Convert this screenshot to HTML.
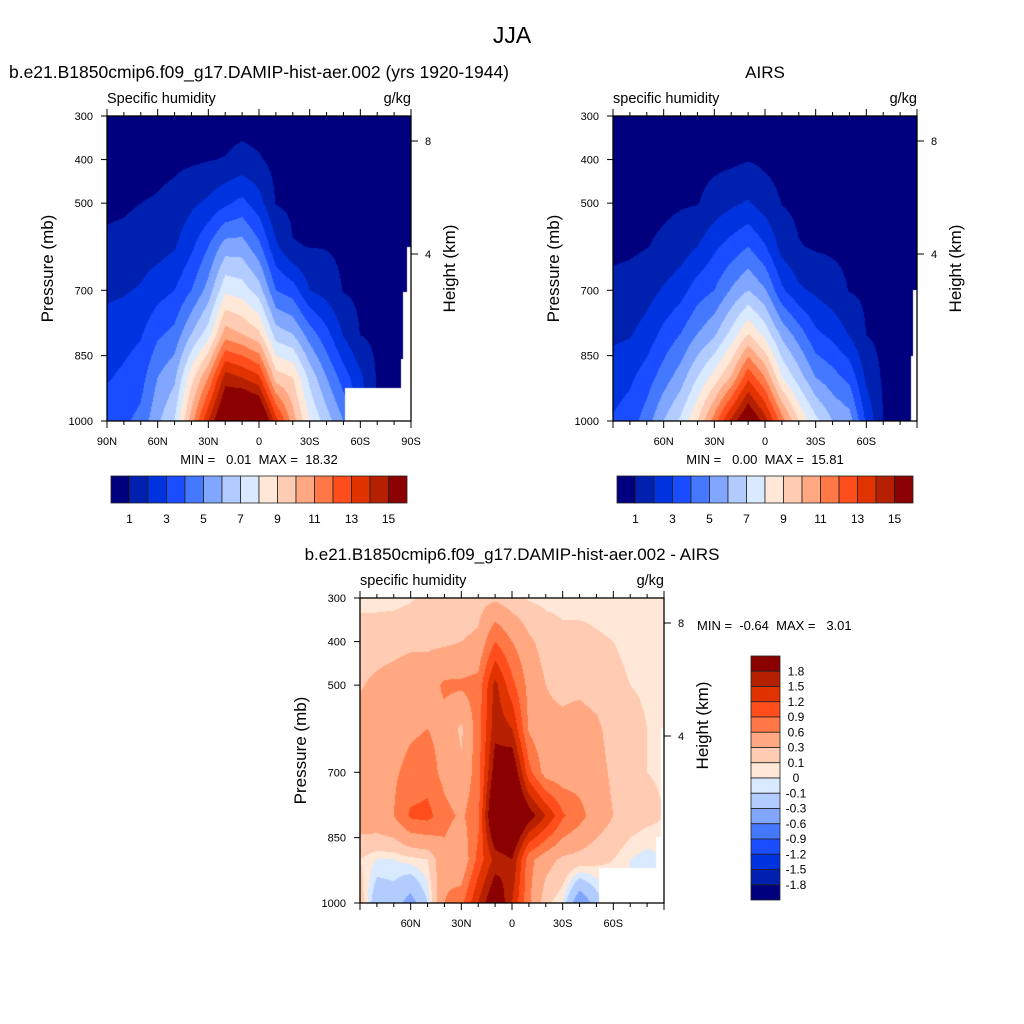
<!DOCTYPE html>
<html><head><meta charset="utf-8">
<style>
html,body{margin:0;padding:0;background:#fff;width:1024px;height:1024px;overflow:hidden}
#wrap{position:relative;width:1024px;height:1024px}
canvas{position:absolute}
svg{position:absolute;left:0;top:0}
text{font-family:"Liberation Sans",sans-serif;fill:#000}
</style></head>
<body>
<div id="wrap">
<canvas id="c1" width="304" height="305" style="left:107px;top:116px"></canvas>
<canvas id="c2" width="304" height="305" style="left:613px;top:116px"></canvas>
<canvas id="c3" width="304" height="305" style="left:360px;top:598px"></canvas>
<svg id="svg" width="1024" height="1024">
<text x="512" y="43" font-size="23" text-anchor="middle">JJA</text>
<text x="259" y="78" font-size="17.5" text-anchor="middle">b.e21.B1850cmip6.f09_g17.DAMIP-hist-aer.002 (yrs 1920-1944)</text>
<text x="765" y="78" font-size="17" text-anchor="middle">AIRS</text>
<text x="512" y="560" font-size="17" text-anchor="middle">b.e21.B1850cmip6.f09_g17.DAMIP-hist-aer.002 - AIRS</text>
<text x="107" y="103" font-size="14.5">Specific humidity</text>
<text x="411" y="103" font-size="14.5" text-anchor="end">g/kg</text>
<text x="613" y="103" font-size="14.5">specific humidity</text>
<text x="917" y="103" font-size="14.5" text-anchor="end">g/kg</text>
<text x="360" y="585" font-size="14.5">specific humidity</text>
<text x="664" y="585" font-size="14.5" text-anchor="end">g/kg</text>
<text x="259" y="464" font-size="13" text-anchor="middle" xml:space="preserve">MIN =   0.01  MAX =  18.32</text>
<text x="765" y="464" font-size="13" text-anchor="middle" xml:space="preserve">MIN =   0.00  MAX =  15.81</text>
<text x="697" y="630" font-size="13" xml:space="preserve">MIN =  -0.64  MAX =   3.01</text>
</svg>
</div>
<script>
// ---- data ----
const lats=[90,80,70,60,50,40,30,20,10,0,-10,-20,-30,-40,-50,-60,-70,-80,-90];
const plevs=[300,400,500,600,700,800,900,1000];
const qModel=[
[0.3,0.5,0.8,1.2,1.8,2.4,2.9,3.6],
[0.3,0.5,0.85,1.3,1.9,2.6,3.2,3.8],
[0.35,0.6,1.0,1.5,2.1,2.9,3.6,4.3],
[0.4,0.7,1.1,1.6,2.6,3.8,5.0,5.8],
[0.45,0.8,1.3,1.9,3.0,4.3,5.8,7.0],
[0.5,0.85,1.8,2.8,4.0,6.0,8.6,10.5],
[0.5,0.95,2.2,4.0,5.4,7.5,11.0,14.0],
[0.55,1.05,2.8,5.5,7.8,10.5,14.5,17.0],
[0.6,1.3,3.3,5.5,7.5,10.0,14.0,18.0],
[0.5,1.1,2.4,4.3,6.5,9.2,13.2,17.5],
[0.4,0.7,0.95,2.2,4.0,6.5,9.5,13.5],
[0.35,0.6,0.8,1.05,3.5,6.0,9.0,10.5],
[0.3,0.55,0.75,0.98,2.0,4.5,6.7,8.0],
[0.3,0.5,0.7,0.95,1.6,3.3,5.0,6.5],
[0.3,0.45,0.6,0.8,0.95,1.9,3.5,5.0],
[0.25,0.4,0.5,0.65,0.8,0.97,2.2,2.5],
[0.2,0.3,0.4,0.5,0.6,0.75,0.9,1.0],
[0.15,0.2,0.3,0.4,0.5,0.6,0.7,0.8],
[0.1,0.15,0.2,0.3,0.4,0.5,0.6,0.7]];
const qAirs=[
[0.2,0.35,0.55,0.8,1.25,1.8,2.5,3.1],
[0.25,0.4,0.6,0.85,1.35,1.9,2.8,3.5],
[0.3,0.45,0.7,0.97,1.6,2.4,3.5,4.5],
[0.35,0.55,0.8,1.2,2.1,3.3,4.5,6.0],
[0.4,0.6,0.9,1.5,2.6,4.0,5.5,7.2],
[0.45,0.7,0.95,2.0,3.5,5.0,7.0,9.0],
[0.5,0.75,1.4,2.8,4.0,5.8,8.4,11.5],
[0.5,0.8,1.8,3.4,5.1,7.3,10.1,14.3],
[0.5,0.95,2.1,4.0,6.0,9.0,12.8,16.5],
[0.45,0.8,1.5,3.1,5.1,7.6,11.0,14.5],
[0.4,0.65,0.97,1.6,3.2,5.7,8.0,11.5],
[0.35,0.55,0.8,1.05,2.2,4.5,6.5,9.0],
[0.3,0.5,0.7,0.9,1.8,3.2,5.0,7.3],
[0.3,0.45,0.65,0.85,1.4,2.7,4.4,6.0],
[0.25,0.4,0.6,0.8,0.96,1.9,3.7,5.5],
[0.2,0.35,0.5,0.7,0.85,0.98,1.8,2.8],
[0.15,0.25,0.35,0.5,0.6,0.75,0.85,1.0],
[0.1,0.2,0.3,0.4,0.5,0.6,0.7,0.8],
[0.1,0.2,0.3,0.4,0.5,0.6,0.7,0.8]];
const qDiff=[
[0.05,0.2,0.28,0.4,0.45,0.45,0.1,0.2],
[0.05,0.2,0.35,0.4,0.45,0.5,0.0,-0.25],
[0.05,0.22,0.4,0.45,0.55,0.6,0.0,-0.2],
[0.08,0.25,0.45,0.55,0.7,0.95,0.05,-0.4],
[0.15,0.25,0.45,0.6,0.75,1.0,0.1,-0.1],
[0.15,0.25,0.65,0.5,0.5,0.7,0.5,0.6],
[0.15,0.3,0.65,0.25,0.35,0.55,0.3,0.8],
[0.2,0.35,0.7,0.75,0.75,0.8,1.0,1.5],
[0.25,0.9,1.6,1.7,2.0,2.5,1.6,2.2],
[0.15,0.6,1.0,1.5,2.2,2.6,1.8,1.5],
[0.08,0.35,0.5,0.55,1.0,2.0,0.7,0.65],
[0.06,0.2,0.3,0.35,0.45,1.5,0.4,0.15],
[0.05,0.15,0.25,0.35,0.4,0.95,0.25,0.0],
[0.05,0.15,0.25,0.4,0.45,0.7,0.2,-0.5],
[0.05,0.12,0.2,0.35,0.4,0.45,0.15,-0.2],
[0.04,0.1,0.15,0.2,0.25,0.3,0.1,0.0],
[0.03,0.06,0.1,0.15,0.15,0.2,0.0,0.0],
[0.03,0.05,0.08,0.1,0.1,0.15,-0.05,0.0],
[0.02,0.04,0.06,0.08,0.08,0.1,0.0,0.0]];
const levelsQ=[1,2,3,4,5,6,7,8,9,10,11,12,13,14,15];
const levelsD=[-1.8,-1.5,-1.2,-0.9,-0.6,-0.3,-0.1,0,0.1,0.3,0.6,0.9,1.2,1.5,1.8];
const labelsQ=["1","3","5","7","9","11","13","15"];
const labelsD=["1.8","1.5","1.2","0.9","0.6","0.3","0.1","0","-0.1","-0.3","-0.6","-0.9","-1.2","-1.5","-1.8"];
// mask: [lat <= value, p >= value]
const maskModel=[[-51,924],[-84,858],[-85.5,704],[-87.6,600]];
const maskAirs=[[-86.6,850],[-87.6,700]];
const maskDiff=[[-51.5,920],[-85,848],[-88.5,598]];
const pTicks=[300,400,500,700,850,1000];
const latTicks=[90,60,30,0,-30,-60,-90];
const latTickLabels=["90N","60N","30N","0","30S","60S","90S"];
const kmTicks=[[8,141],[4,254]];
const palette=['#00007f','#0021b0','#0033e0','#1a4dff','#4479ff','#80a6ff','#b3ccff','#d9e9ff','#ffe8d7','#ffcbb2','#ffa882','#ff7846','#ff4d1c','#e03300','#b52000','#8b0000'];
</script>
<script>
const NS='http://www.w3.org/2000/svg';
const svg=document.getElementById('svg');
function mk(tag,attrs){const e=document.createElementNS(NS,tag);for(const k in attrs)e.setAttribute(k,attrs[k]);svg.appendChild(e);return e;}
function hex(c){return [parseInt(c.slice(1,3),16),parseInt(c.slice(3,5),16),parseInt(c.slice(5,7),16)];}
const rgb=palette.map(hex);
function xOf(P,lat){return P.x+(90-lat)/180*P.w;}
function yOf(P,p){return P.y+(p-300)/700*P.h;}
function sample(data,lat,p){
  let fi=(90-lat)/10, fj=(p-300)/100;
  fi=Math.max(0,Math.min(lats.length-1.0001,fi)); fj=Math.max(0,Math.min(plevs.length-1.0001,fj));
  const i=Math.floor(fi),j=Math.floor(fj),a=fi-i,b=fj-j;
  return data[i][j]*(1-a)*(1-b)+data[i+1][j]*a*(1-b)+data[i][j+1]*(1-a)*b+data[i+1][j+1]*a*b;
}
function idx(v,levels){let k=0;for(const l of levels){if(v>=l)k++;}return k;}
function drawPanel(cid,P,data,levels,mask){
  const cv=document.getElementById(cid),ctx=cv.getContext('2d');
  const img=ctx.createImageData(cv.width,cv.height);
  for(let py=0;py<cv.height;py++){
    const p=300+(py+0.5)/P.h*700;
    for(let px=0;px<cv.width;px++){
      const lat=90-(px+0.5)/P.w*180;
      let col=[255,255,255];
      let masked=false;
      for(const m of mask){if(lat<=m[0]&&p>=m[1])masked=true;}
      if(!masked)col=rgb[idx(sample(data,lat,p),levels)];
      const o=(py*cv.width+px)*4;
      img.data[o]=col[0];img.data[o+1]=col[1];img.data[o+2]=col[2];img.data[o+3]=255;
    }
  }
  ctx.putImageData(img,0,0);
}
function axes(P,name,showEnds){
  const r=mk('rect',{x:P.x,y:P.y,width:P.w,height:P.h,fill:'none',stroke:'#000','stroke-width':1.3});
  
  
  for(const p of pTicks){
    const y=yOf(P,p);
    const t=mk('line',{x1:P.x-6,x2:P.x,y1:y,y2:y,stroke:'#000'});
    
    
    const l=mk('text',{x:P.x-14,y:y+4,'font-size':11,'text-anchor':'end'});
    l.textContent=p;
    
    
  }
  for(let lat=90;lat>=-90;lat-=10){
    const x=xOf(P,lat),len=(lat%30===0)?7:4;
    const t1=mk('line',{x1:x,x2:x,y1:P.y,y2:P.y-len,stroke:'#000'});
    
    
    const t2=mk('line',{x1:x,x2:x,y1:P.y+P.h,y2:P.y+P.h+len,stroke:'#000'});
    
    
  }
  latTicks.forEach((lat,i)=>{
    if(!showEnds&&Math.abs(lat)===90)return;
    const l=mk('text',{x:xOf(P,lat),y:P.y+P.h+24,'font-size':11,'text-anchor':'middle'});
    l.textContent=latTickLabels[i];
    
    
  });
  for(const k of kmTicks){
    const y=P.y+(k[1]-116);
    const t=mk('line',{x1:P.x+P.w,x2:P.x+P.w+7,y1:y,y2:y,stroke:'#000'});
    
    
    const l=mk('text',{x:P.x+P.w+17,y:y+4,'font-size':11,'text-anchor':'middle'});
    l.textContent=k[0];
    
    
  }
  const cy=P.y+P.h/2;
  const yl=mk('text',{x:P.x-54,y:cy,'font-size':17,'text-anchor':'middle',transform:'rotate(-90 '+(P.x-54)+' '+cy+')'});
  yl.textContent='Pressure (mb)';
  
  
  const hy=name==='diff'?cy-25:cy;
  const yr=mk('text',{x:P.x+P.w+44,y:hy,'font-size':17,'text-anchor':'middle',transform:'rotate(-90 '+(P.x+P.w+44)+' '+hy+')'});
  yr.textContent='Height (km)';
  
  
}
function hbar(x,y,w,h,name){
  const bw=w/palette.length;
  palette.forEach((c,i)=>{
    const r=mk('rect',{x:x+i*bw,y:y,width:bw,height:h,fill:c,stroke:'#222','stroke-width':0.8});
    
    
  });
  labelsQ.forEach((t,i)=>{
    const k=levelsQ.indexOf(+t)+1;
    const l=mk('text',{x:x+k*bw,y:y+h+20,'font-size':12,'text-anchor':'middle'});
    l.textContent=t;
    
    
  });
}
function vbar(x,y,w,h,name){
  const bh=h/palette.length;
  palette.slice().reverse().forEach((c,i)=>{
    const r=mk('rect',{x:x,y:y+i*bh,width:w,height:bh,fill:c,stroke:'#222','stroke-width':0.8});
    
    
  });
  labelsD.forEach((t,i)=>{
    const l=mk('text',{x:x+45,y:y+(i+1)*bh+4,'font-size':12,'text-anchor':'middle'});
    l.textContent=t;
    
    
  });
}
const P1={x:107,y:116,w:304,h:305},P2={x:613,y:116,w:304,h:305},P3={x:360,y:598,w:304,h:305};
drawPanel('c1',P1,qModel,levelsQ,maskModel);
drawPanel('c2',P2,qAirs,levelsQ,maskAirs);
drawPanel('c3',P3,qDiff,levelsD,maskDiff);
axes(P1,'model',true);
axes(P2,'airs',false);
axes(P3,'diff',false);
hbar(111,476,296,27,'model');
hbar(617,476,296,27,'airs');
vbar(751,656,29,244,'diff');
</script>
</body></html>
